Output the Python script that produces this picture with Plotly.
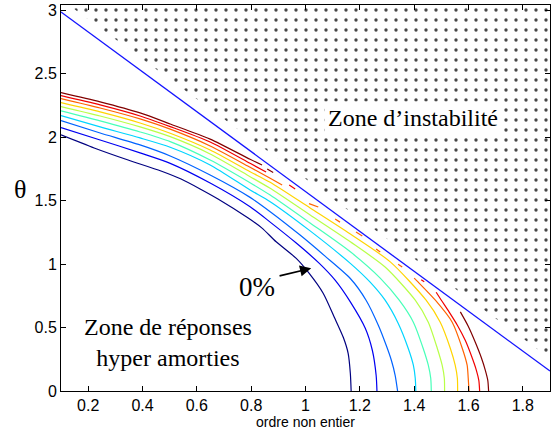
import plotly.graph_objects as go

# Iso-overshoot contours (order alpha vs. angle theta), levels from 0% upward
ALPHA_0 = [0.100, 0.222, 0.347, 0.468, 0.542, 0.612, 0.678, 0.789, 0.840, 0.892, 0.966, 1.013, 1.065, 1.106, 1.139, 1.157, 1.165, 1.168]
THETA_0 = [2.017, 1.914, 1.819, 1.733, 1.669, 1.591, 1.512, 1.362, 1.283, 1.175, 1.044, 0.928, 0.770, 0.581, 0.423, 0.297, 0.140, 0.0]

ALPHA_1 = [0.100, 0.244, 0.391, 0.502, 0.649, 0.796, 0.870, 0.966, 1.050, 1.109, 1.165, 1.220, 1.246, 1.260, 1.263]
THETA_1 = [2.074, 1.977, 1.875, 1.793, 1.638, 1.451, 1.330, 1.165, 1.007, 0.873, 0.702, 0.494, 0.321, 0.124, 0.0]

ALPHA_2 = [0.100, 0.244, 0.391, 0.502, 0.649, 0.796, 0.870, 0.980, 1.072, 1.165, 1.223, 1.268, 1.297, 1.316, 1.330, 1.339]
THETA_2 = [2.129, 2.032, 1.938, 1.851, 1.701, 1.525, 1.412, 1.228, 1.062, 0.886, 0.715, 0.518, 0.360, 0.242, 0.124, 0.0]

ALPHA_3 = [0.100, 0.244, 0.391, 0.502, 0.649, 0.796, 0.870, 1.017, 1.165, 1.238, 1.293, 1.341, 1.378, 1.397, 1.404, 1.406]
THETA_3 = [2.169, 2.080, 1.993, 1.920, 1.780, 1.583, 1.491, 1.261, 1.005, 0.857, 0.715, 0.534, 0.337, 0.203, 0.100, 0.0]

ALPHA_4 = [0.100, 0.244, 0.391, 0.502, 0.649, 0.796, 0.870, 1.017, 1.165, 1.275, 1.345, 1.397, 1.433, 1.452, 1.461, 1.463]
THETA_4 = [2.206, 2.127, 2.040, 1.964, 1.819, 1.640, 1.543, 1.323, 1.096, 0.889, 0.715, 0.542, 0.337, 0.203, 0.100, 0.0]

ALPHA_5 = [0.100, 0.244, 0.391, 0.502, 0.649, 0.796, 0.870, 1.017, 1.165, 1.293, 1.404, 1.452, 1.485, 1.503, 1.511, 1.512]
THETA_5 = [2.240, 2.166, 2.080, 2.003, 1.867, 1.688, 1.596, 1.386, 1.175, 0.976, 0.715, 0.542, 0.337, 0.203, 0.100, 0.0]

ALPHA_6 = [0.100, 0.244, 0.391, 0.502, 0.649, 0.796, 0.870, 1.017, 1.165, 1.312, 1.444, 1.496, 1.533, 1.551, 1.559, 1.560]
THETA_6 = [2.271, 2.198, 2.111, 2.030, 1.898, 1.727, 1.644, 1.441, 1.236, 1.017, 0.715, 0.542, 0.337, 0.203, 0.100, 0.0]

# upper levels break up close to the stability limit (None = gap)
ALPHA_7 = [0.100, 0.244, 0.391, 0.502, 0.649, 0.796, 0.870, 0.914, None,
           1.013, 1.047, None, 1.109, 1.127, None, 1.186, 1.209, None,
           1.260, 1.275, None, 1.341, 1.356, None,
           1.400, 1.415, 1.478, 1.540, 1.577, 1.595, 1.599, 1.602]
THETA_7 = [2.303, 2.229, 2.143, 2.062, 1.930, 1.762, 1.675, 1.622, None,
           1.476, 1.449, None, 1.354, 1.330, None, 1.252, 1.220, None,
           1.118, 1.094, None, 0.999, 0.976, None,
           0.889, 0.857, 0.715, 0.542, 0.337, 0.203, 0.100, 0.0]

ALPHA_8 = [0.100, 0.244, 0.391, 0.502, 0.649, 0.796, 0.855, None,
           0.940, 0.962, None, 1.426, 1.437, None,
           1.481, 1.500, 1.529, 1.559, 1.588, 1.610, 1.629, 1.638, 1.641]
THETA_8 = [2.326, 2.253, 2.166, 2.082, 1.961, 1.793, 1.725, None,
           1.622, 1.591, None, 0.877, 0.861, None,
           0.778, 0.715, 0.621, 0.518, 0.399, 0.281, 0.163, 0.084, 0.0]

ALPHA_9 = [0.100, 0.244, 0.391, 0.502, 0.649, 0.796, 0.840, None,
           0.859, 0.881, None,
           1.570, 1.599, 1.625, 1.647, 1.662, 1.671, 1.674]
THETA_9 = [2.350, 2.277, 2.190, 2.103, 1.984, 1.825, 1.780, None,
           1.748, 1.721, None,
           0.623, 0.510, 0.384, 0.264, 0.163, 0.084, 0.0]

CONTOURS = [
    (ALPHA_0, THETA_0), (ALPHA_1, THETA_1), (ALPHA_2, THETA_2), (ALPHA_3, THETA_3),
    (ALPHA_4, THETA_4), (ALPHA_5, THETA_5), (ALPHA_6, THETA_6), (ALPHA_7, THETA_7),
    (ALPHA_8, THETA_8), (ALPHA_9, THETA_9),
]

# jet colour map sampled at 10 levels
LEVEL_COLORS = ["#000080", "#0000f1", "#0063ff", "#00d4ff", "#47ffb8",
                "#b8ff47", "#ffd400", "#ff6300", "#f10000", "#800000"]

# stability limit theta = pi(1 - alpha/2)
STAB_ALPHA = [0.1, 1.9]
STAB_THETA = [2.985, 0.157]

# dotted instability region (boundary kept slightly above the limit)
INSTAB_ALPHA = [0.1, 1.9, 1.9, 0.1]
INSTAB_THETA = [3.085, 0.257, 3.1, 3.1]

X_TICKS = [0.2, 0.4, 0.6, 0.8, 1.0, 1.2, 1.4, 1.6, 1.8]
X_TICK_TEXT = ["0.2", "0.4", "0.6", "0.8", "1", "1.2", "1.4", "1.6", "1.8"]
Y_TICKS = [0, 0.5, 1, 1.5, 2, 2.5, 3]
Y_TICK_TEXT = ["0", "0.5", "1", "1.5", "2", "2.5", "3"]

SERIF = "Liberation Serif, Times New Roman, serif"
SANS = "Liberation Sans, Arial, sans-serif"

fig = go.Figure()

fig.add_trace(go.Scatter(
    x=INSTAB_ALPHA, y=INSTAB_THETA, mode="lines", fill="toself",
    line=dict(width=0, color="rgba(0,0,0,0)"),
    fillcolor="rgba(0,0,0,0)",
    fillpattern=dict(shape=".", size=10, solidity=0.09,
                     fgcolor="#474747", bgcolor="white", fillmode="replace"),
    hoverinfo="skip", showlegend=False,
))

for (ax_, th_), col in zip(CONTOURS, LEVEL_COLORS):
    fig.add_trace(go.Scatter(
        x=ax_, y=th_, mode="lines", connectgaps=False,
        line=dict(color=col, width=1.2, shape="spline", smoothing=0.7),
        showlegend=False,
    ))

fig.add_trace(go.Scatter(
    x=STAB_ALPHA, y=STAB_THETA, mode="lines",
    line=dict(color="#1414ff", width=1.3), showlegend=False,
))

fig.add_annotation(
    x=1.397, y=2.151, xref="x", yref="y", text="Zone d’instabilité",
    showarrow=False, font=dict(family=SERIF, size=24, color="black"),
    bgcolor="white", borderpad=3,
)
fig.add_annotation(
    x=0.494, y=0.384, xref="x", yref="y",
    text="Zone de réponses<br>hyper amorties",
    showarrow=False, font=dict(family=SERIF, size=24, color="black"),
    align="center",
)
fig.add_annotation(
    x=0.822, y=0.818, xref="x", yref="y", text="0%",
    showarrow=False, font=dict(family=SERIF, size=27, color="black"),
)
# arrow from the label to the 0% contour
fig.add_annotation(
    x=1.021, y=0.967, xref="x", yref="y",
    ax=0.899, ay=0.904, axref="x", ayref="y",
    text="", showarrow=True, arrowhead=2, arrowsize=1.4,
    arrowwidth=1.6, arrowcolor="black",
)
fig.add_annotation(
    x=-0.1, y=1.59, xref="paper", yref="y", text="θ",
    showarrow=False, font=dict(family=SERIF, size=26, color="black"),
)

axis_common = dict(
    showline=True, linecolor="black", linewidth=1, mirror="allticks",
    ticks="inside", ticklen=5, tickwidth=1, tickcolor="black",
    showgrid=False, zeroline=False,
    tickfont=dict(family=SANS, size=16, color="black"),
)

fig.update_xaxes(
    range=[0.1, 1.9], tickvals=X_TICKS, ticktext=X_TICK_TEXT,
    title=dict(text="ordre non entier", font=dict(family=SANS, size=14, color="black"),
               standoff=2),
    **axis_common,
)
fig.update_yaxes(
    range=[0, 3.04], tickvals=Y_TICKS, ticktext=Y_TICK_TEXT,
    **axis_common,
)

fig.update_layout(
    width=552, height=434,
    margin=dict(l=61, r=2, t=5, b=43),
    plot_bgcolor="white", paper_bgcolor="white",
    showlegend=False,
)

fig.write_html("out.html")
